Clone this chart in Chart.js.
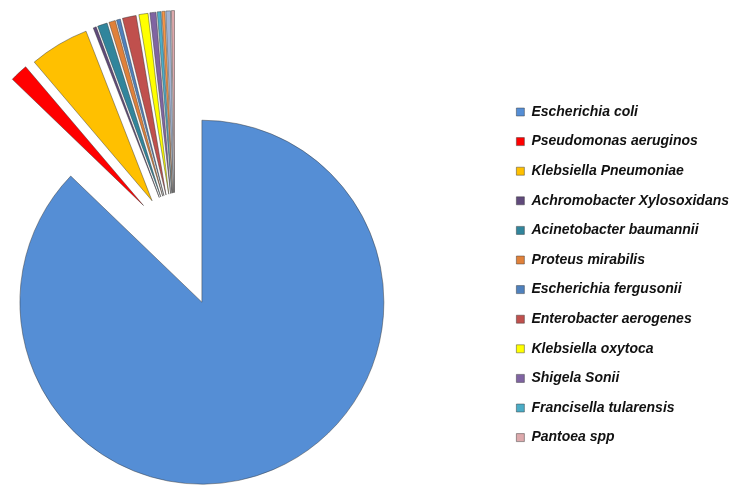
<!DOCTYPE html>
<html>
<head>
<meta charset="utf-8">
<script src="https://cdn.jsdelivr.net/npm/chart.js@4"></script>
<style>
  html, body { margin: 0; padding: 0; background: #fff; overflow: hidden; width: 736px; height: 486px; }
  /* the pie is cut by the page edge in the original, so the canvas is larger than the page */
  canvas { display: block; margin-left: -97px; }
</style>
</head>
<body>
<canvas id="pie-chart" width="836" height="515"></canvas>
<script>
// slice names (empty names = unlabelled slices, not shown in legend)
const categories = [
    'Escherichia coli',
    'Pseudomonas aeruginos',
    'Klebsiella Pneumoniae',
    'Achromobacter Xylosoxidans',
    'Acinetobacter baumannii',
    'Proteus mirabilis',
    'Escherichia fergusonii',
    'Enterobacter aerogenes',
    'Klebsiella oxytoca',
    'Shigela Sonii',
    'Francisella tularensis',
    '',
    '',
    'Pantoea spp'
];

// share of isolates (%)
const shares = [87.2, 1.6, 5.3, 0.27, 0.87, 0.57, 0.35, 1.22, 0.81, 0.54, 0.33, 0.27, 0.41, 0.27];

const sliceColors = [
    '#558ED5', '#FF0000', '#FFC000', '#604A7B', '#31859C', '#E0813A', '#4F81BD',
    '#C0504D', '#FFFF00', '#8064A2', '#4BACC6', '#F79646', '#A3B4D2', '#DDA9AC'
];

// pulls every slice except the first one away from the centre
const explodePlugin = {
    id: 'explode',
    afterDatasetUpdate(chart, args, opts) {
        const arcs = args.meta.data.filter((a, i) => i > 0);
        if (!arcs.length) return;
        const start = Math.min(...arcs.map(a => a.startAngle));
        const end = Math.max(...arcs.map(a => a.endAngle));
        const mid = (start + end) / 2;
        arcs.forEach(a => {
            const bis = (a.startAngle + a.endAngle) / 2;
            const dir = mid + opts.spread * (bis - mid);
            a.x += Math.cos(dir) * opts.distance;
            a.y += Math.sin(dir) * opts.distance;
        });
    }
};

const ctx = document.getElementById('pie-chart').getContext('2d');

new Chart(ctx, {
    type: 'pie',
    data: {
        labels: categories,
        datasets: [{
            data: shares,
            backgroundColor: sliceColors,
            borderColor: 'rgba(50, 50, 50, 0.45)',
            borderWidth: 1,
            radius: 182,
            clip: false
        }]
    },
    options: {
        responsive: false,
        animation: false,
        devicePixelRatio: 1,
        layout: {
            padding: { top: 89.4, bottom: 0, left: 0, right: 0 }
        },
        plugins: {
            explode: { distance: 113, spread: 0.4 },
            tooltip: { enabled: false },
            legend: {
                position: 'right',
                align: 'start',
                labels: {
                    boxWidth: 8,
                    boxHeight: 8,
                    padding: 15.6,
                    color: '#111',
                    font: { family: '"Liberation Sans", Arial, sans-serif', size: 14, weight: 'bold', style: 'italic' },
                    filter: item => item.text !== ''
                }
            }
        }
    },
    plugins: [explodePlugin]
});
</script>
</body>
</html>
